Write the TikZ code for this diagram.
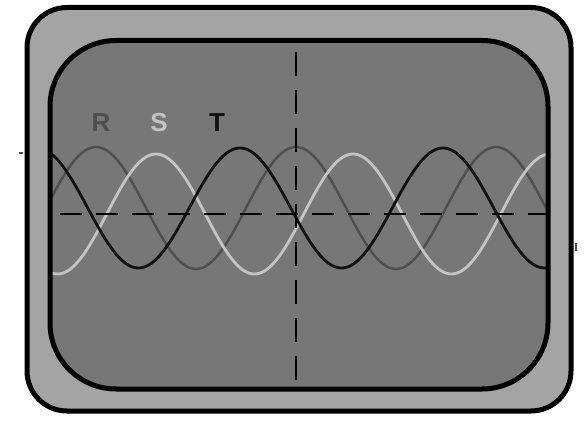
\documentclass[tikz,border=0pt]{standalone}
\usepackage{fontspec}
\setmainfont{Liberation Sans}
\definecolor{caseg}{HTML}{A4A4A4}
\definecolor{screeng}{HTML}{777777}
\definecolor{rcol}{HTML}{4E4E4E}
\definecolor{scol}{HTML}{C4C4C4}
\definecolor{tcol}{HTML}{111111}
\tikzset{
  frame/.style={line width=5pt, draw=black},
  gridline/.style={line width=2.4pt, draw=black, dash pattern=on 22pt off 14pt},
  vgridline/.style={gridline, dash pattern=on 24pt off 14pt},
  wave/.style={line width=2.8pt, smooth, samples=240},
  lbl/.style={font=\fontsize{26}{26}\selectfont\bfseries, inner sep=0pt}
}
\begin{document}
\begin{tikzpicture}[x=1pt,y=-1pt]
\useasboundingbox[fill=white] (0,0) rectangle (584,422);
% outer case
\path[frame, fill=caseg, rounded corners=40pt] (27,7.5) rectangle (571,411);
% screen
\path[fill=screeng, rounded corners=66pt] (50,40.5) rectangle (548,389);
\begin{scope}
\clip[rounded corners=66pt] (50,40.5) rectangle (548,389);
\draw[wave, draw=rcol, line width=2.4pt] plot[domain=50:548] (\x, {208 - 61*cos(1.8*(\x-96))});
\draw[wave, draw=scol] plot[domain=50:548] (\x, {214 - 60*cos(1.8274*(\x-156))});
\draw[wave, draw=tcol] plot[domain=50:548] (\x, {208 - 60*cos(1.7734*(\x-240))});
\end{scope}
\coordinate (vtop) at (296,52);
\coordinate (vbot) at (296,380);
\coordinate (hleft) at (60,214);
\coordinate (hright) at (546,214);
\draw[vgridline] (vtop) -- (vbot);
\draw[gridline] (hleft) -- (hright);
\path[frame, rounded corners=66pt] (50,40.5) rectangle (548,389);
% labels
\node[lbl, text=rcol] (R) at (101,123) {R};
\node[lbl, text=scol] (S) at (159,123) {S};
\node[lbl, text=tcol] (T) at (217,123) {T};
% small marks
\coordinate (m1a) at (19,153);
\coordinate (m1b) at (23,153);
\coordinate (m2a) at (576,243);
\coordinate (m2b) at (576,251);
\draw[line width=1.2pt, draw=rcol] (m1a) -- (m1b);
\draw[line width=1.4pt, draw=rcol] (m2a) -- (m2b);
\end{tikzpicture}
\end{document}
